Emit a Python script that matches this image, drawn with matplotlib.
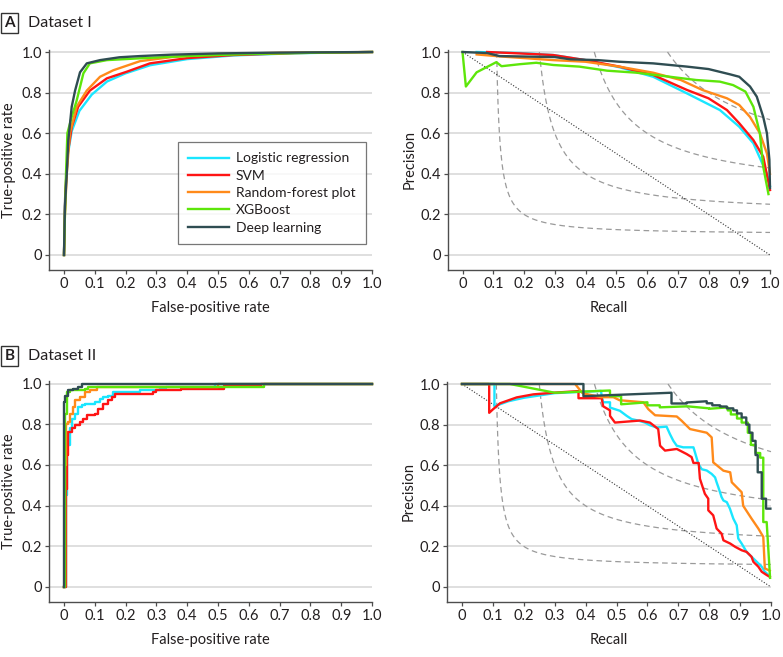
import matplotlib
matplotlib.use("Agg")
import matplotlib.pyplot as plt
from matplotlib.patches import Rectangle
import numpy as np

plt.rcParams['font.family'] = ['Lato', 'DejaVu Sans']

W, H = 783, 657

model_names = ["Logistic regression", "SVM", "Random-forest plot", "XGBoost", "Deep learning"]
model_colors = ["#1ae6ff", "#ff1414", "#ff8a1a", "#5de60a", "#2f4d52"]

x_ticks = [0, 0.1, 0.2, 0.3, 0.4, 0.5, 0.6, 0.7, 0.8, 0.9, 1.0]
x_tick_labels = ["0", "0.1", "0.2", "0.3", "0.4", "0.5", "0.6", "0.7", "0.8", "0.9", "1.0"]
y_ticks = [0, 0.2, 0.4, 0.6, 0.8, 1.0]
y_tick_labels = ["0", "0.2", "0.4", "0.6", "0.8", "1.0"]
f1_levels = [0.2, 0.4, 0.6, 0.8]

# ---------------- Dataset I, ROC ----------------
roc1_lr_fpr = [0, 0.004, 0.012, 0.025, 0.05, 0.09, 0.14, 0.2, 0.28, 0.4, 0.55, 0.75, 1.0]
roc1_lr_tpr = [0, 0.3, 0.49, 0.61, 0.71, 0.79, 0.855, 0.895, 0.935, 0.965, 0.983, 0.994, 1.0]
roc1_svm_fpr = [0, 0.004, 0.012, 0.025, 0.046, 0.084, 0.139, 0.204, 0.279, 0.40, 0.55, 0.75, 1.0]
roc1_svm_tpr = [0, 0.3, 0.50, 0.63, 0.73, 0.81, 0.87, 0.903, 0.944, 0.97, 0.985, 0.995, 1.0]
roc1_rf_fpr = [0, 0.003, 0.009, 0.019, 0.041, 0.074, 0.117, 0.16, 0.247, 0.35, 0.5, 0.7, 1.0]
roc1_rf_tpr = [0, 0.2, 0.40, 0.60, 0.73, 0.81, 0.878, 0.91, 0.955, 0.975, 0.99, 0.996, 1.0]
roc1_xgb_fpr = [0, 0.003, 0.0065, 0.011, 0.025, 0.041, 0.063, 0.084, 0.139, 0.247, 0.4, 0.6, 0.8, 1.0]
roc1_xgb_tpr = [0, 0.2, 0.40, 0.60, 0.68, 0.76, 0.895, 0.944, 0.96, 0.969, 0.98, 0.99, 0.996, 1.0]
roc1_dl_fpr = [0, 0, 0.003, 0.009, 0.014, 0.025, 0.036, 0.052, 0.074, 0.117, 0.18, 0.247, 0.35, 0.5, 0.7, 1.0]
roc1_dl_tpr = [0, 0.01, 0.24, 0.40, 0.565, 0.73, 0.81, 0.90, 0.944, 0.96, 0.974, 0.98, 0.987, 0.993, 0.997, 1.0]

# ---------------- Dataset I, PR ----------------
pr1_lr_rec = [0.046, 0.187, 0.295, 0.40, 0.51, 0.62, 0.73, 0.837, 0.90, 0.946, 0.99, 1.0]
pr1_lr_prec = [1.0, 0.995, 0.985, 0.96, 0.925, 0.878, 0.796, 0.714, 0.632, 0.55, 0.40, 0.34]
pr1_svm_rec = [0.08, 0.187, 0.295, 0.40, 0.51, 0.62, 0.73, 0.80, 0.86, 0.90, 0.946, 0.978, 1.0]
pr1_svm_prec = [1.0, 0.993, 0.985, 0.96, 0.928, 0.887, 0.813, 0.772, 0.714, 0.649, 0.566, 0.484, 0.32]
pr1_rf_rec = [0.046, 0.133, 0.295, 0.40, 0.51, 0.62, 0.71, 0.78, 0.86, 0.90, 0.935, 0.967, 0.99, 1.0]
pr1_rf_prec = [0.988, 0.977, 0.96, 0.952, 0.928, 0.898, 0.862, 0.813, 0.772, 0.739, 0.68, 0.60, 0.50, 0.40]
pr1_xgb_rec = [0, 0.011, 0.046, 0.11, 0.127, 0.187, 0.24, 0.295, 0.38, 0.47, 0.566, 0.675, 0.76,
               0.837, 0.88, 0.92, 0.946, 0.967, 0.978, 0.995]
pr1_xgb_prec = [1.0, 0.83, 0.90, 0.95, 0.93, 0.94, 0.947, 0.936, 0.928, 0.908, 0.898, 0.878, 0.862,
                0.854, 0.837, 0.805, 0.73, 0.60, 0.435, 0.30]
pr1_dl_rec = [0, 0.08, 0.12, 0.3, 0.35, 0.44, 0.51, 0.62, 0.73, 0.80, 0.87, 0.90, 0.935, 0.957,
              0.978, 0.99, 0.998, 1.0]
pr1_dl_prec = [1.0, 0.995, 0.98, 0.975, 0.964, 0.96, 0.952, 0.944, 0.928, 0.916, 0.89, 0.878, 0.83,
               0.78, 0.68, 0.60, 0.47, 0.33]

# ---------------- Dataset II, ROC (step levels) ----------------
roc2_lr_fpr = [0, 0.005, 0.0087, 0.0195, 0.025, 0.036, 0.046, 0.057, 0.068, 0.1, 0.117, 0.128,
               0.144, 0.16, 0.247, 0.312, 0.33, 0.49, 1.0]
roc2_lr_tpr = [0, 0.45, 0.70, 0.78, 0.827, 0.85, 0.884, 0.892, 0.90, 0.91, 0.925, 0.933,
               0.941, 0.958, 0.966, 0.977, 0.985, 1.0, 1.0]
roc2_svm_fpr = [0, 0.005, 0.0087, 0.014, 0.025, 0.036, 0.052, 0.063, 0.074, 0.1, 0.111, 0.128,
                0.144, 0.155, 0.166, 0.29, 0.3, 0.38, 0.39, 0.52, 0.64, 1.0]
roc2_svm_tpr = [0, 0.48, 0.65, 0.76, 0.78, 0.795, 0.81, 0.827, 0.843, 0.85, 0.876, 0.90,
                0.917, 0.933, 0.95, 0.957, 0.966, 0.974, 0.974, 0.99, 1.0, 1.0]
roc2_rf_fpr = [0, 0.004, 0.0065, 0.014, 0.019, 0.03, 0.036, 0.052, 0.068, 0.084, 0.106, 0.5, 1.0]
roc2_rf_tpr = [0, 0.60, 0.80, 0.81, 0.85, 0.884, 0.917, 0.933, 0.958, 0.97, 0.985, 1.0, 1.0]
roc2_xgb_fpr = [0, 0.003, 0.0087, 0.019, 0.068, 0.079, 0.65, 1.0]
roc2_xgb_tpr = [0, 0.85, 0.958, 0.966, 0.974, 0.985, 1.0, 1.0]
roc2_dl_fpr = [0, 0.0, 0.003, 0.014, 0.030, 0.046, 0.057, 1.0]
roc2_dl_tpr = [0, 0.91, 0.94, 0.966, 0.974, 0.985, 1.0, 1.0]

# ---------------- Dataset II, PR (curve vertices) ----------------
pr2_lr_rec = [0, 0.105, 0.105, 0.15, 0.2, 0.3, 0.45, 0.452, 0.457, 0.479, 0.479, 0.511, 0.533,
              0.549, 0.57, 0.592, 0.608, 0.63, 0.662, 0.673, 0.684, 0.695, 0.716, 0.749, 0.754,
              0.765, 0.776, 0.792, 0.808, 0.819, 0.824, 0.83, 0.84, 0.846, 0.857, 0.867, 0.878,
              0.889, 0.894, 0.905, 0.921, 0.937, 0.954, 0.97, 0.98, 0.992]
pr2_lr_prec = [1.0, 1.0, 0.89, 0.915, 0.932, 0.955, 0.966, 0.94, 0.91, 0.91, 0.884, 0.868, 0.843,
               0.827, 0.82, 0.81, 0.797, 0.786, 0.79, 0.753, 0.72, 0.696, 0.688, 0.688, 0.663,
               0.606, 0.58, 0.574, 0.557, 0.54, 0.516, 0.49, 0.443, 0.426, 0.418, 0.386, 0.337,
               0.304, 0.239, 0.214, 0.173, 0.149, 0.124, 0.10, 0.075, 0.059]
pr2_svm_rec = [0, 0.088, 0.088, 0.10, 0.123, 0.177, 0.231, 0.296, 0.377, 0.377, 0.452, 0.457,
               0.479, 0.479, 0.495, 0.576, 0.608, 0.625, 0.635, 0.641, 0.657, 0.695, 0.727, 0.743,
               0.749, 0.766, 0.77, 0.786, 0.797, 0.797, 0.813, 0.824, 0.84, 0.846, 0.868, 0.884,
               0.905, 0.921, 0.937, 0.943, 0.959, 0.97, 0.986, 0.996]
pr2_svm_prec = [1.0, 1.0, 0.858, 0.875, 0.905, 0.934, 0.949, 0.957, 0.965, 0.93, 0.93, 0.89,
                0.87, 0.843, 0.81, 0.82, 0.81, 0.79, 0.778, 0.696, 0.672, 0.68, 0.655, 0.64,
                0.611, 0.611, 0.533, 0.459, 0.435, 0.378, 0.353, 0.288, 0.263, 0.23, 0.214, 0.198,
                0.181, 0.173, 0.149, 0.124, 0.10, 0.075, 0.059, 0.05]
pr2_rf_rec = [0, 0.366, 0.39, 0.45, 0.49, 0.51, 0.587, 0.603, 0.625, 0.695, 0.71, 0.738, 0.792,
              0.808, 0.813, 0.846, 0.868, 0.873, 0.905, 0.91, 0.937, 0.959, 0.975, 0.98, 0.996]
pr2_rf_prec = [1.0, 1.0, 0.955, 0.935, 0.935, 0.92, 0.91, 0.876, 0.846, 0.84, 0.82, 0.778, 0.76,
               0.737, 0.614, 0.573, 0.565, 0.516, 0.467, 0.40, 0.337, 0.288, 0.247, 0.092, 0.08]
pr2_xgb_rec = [0, 0.155, 0.30, 0.479, 0.479, 0.515, 0.515, 0.60, 0.60, 0.64, 0.64, 0.73, 0.80,
               0.80, 0.86, 0.86, 0.87, 0.87, 0.89, 0.89, 0.905, 0.905, 0.925, 0.925, 0.935, 0.935,
               0.95, 0.95, 0.965, 0.965, 0.975, 0.975, 0.986, 0.997]
pr2_xgb_prec = [1.0, 1.0, 0.957, 0.968, 0.94, 0.94, 0.90, 0.91, 0.895, 0.895, 0.885, 0.89, 0.88,
                0.878, 0.885, 0.87, 0.87, 0.85, 0.85, 0.83, 0.83, 0.81, 0.81, 0.76, 0.76, 0.70,
                0.70, 0.66, 0.66, 0.637, 0.637, 0.32, 0.32, 0.045]
pr2_dl_rec = [0, 0.393, 0.393, 0.678, 0.678, 0.727, 0.727, 0.792, 0.792, 0.81, 0.81, 0.835, 0.835,
              0.857, 0.857, 0.878, 0.878, 0.89, 0.89, 0.905, 0.905, 0.92, 0.92, 0.93, 0.93, 0.94,
              0.94, 0.95, 0.95, 0.957, 0.957, 0.97, 0.97, 0.984, 0.984, 0.998]
pr2_dl_prec = [1.0, 1.0, 0.94, 0.957, 0.904, 0.904, 0.909, 0.915, 0.905, 0.905, 0.895, 0.895,
               0.889, 0.889, 0.880, 0.880, 0.870, 0.870, 0.855, 0.855, 0.835, 0.835, 0.80, 0.80,
               0.76, 0.76, 0.72, 0.72, 0.65, 0.65, 0.565, 0.565, 0.435, 0.435, 0.386, 0.386]

roc1 = [(roc1_lr_fpr, roc1_lr_tpr), (roc1_svm_fpr, roc1_svm_tpr), (roc1_rf_fpr, roc1_rf_tpr),
        (roc1_xgb_fpr, roc1_xgb_tpr), (roc1_dl_fpr, roc1_dl_tpr)]
pr1 = [(pr1_lr_rec, pr1_lr_prec), (pr1_svm_rec, pr1_svm_prec), (pr1_rf_rec, pr1_rf_prec),
       (pr1_xgb_rec, pr1_xgb_prec), (pr1_dl_rec, pr1_dl_prec)]
roc2 = [(roc2_lr_fpr, roc2_lr_tpr), (roc2_svm_fpr, roc2_svm_tpr), (roc2_rf_fpr, roc2_rf_tpr),
        (roc2_xgb_fpr, roc2_xgb_tpr), (roc2_dl_fpr, roc2_dl_tpr)]
pr2 = [(pr2_lr_rec, pr2_lr_prec), (pr2_svm_rec, pr2_svm_prec), (pr2_rf_rec, pr2_rf_prec),
       (pr2_xgb_rec, pr2_xgb_prec), (pr2_dl_rec, pr2_dl_prec)]

XLO, XHI, YLO, YHI = -0.048, 1.0, -0.074, 1.012
TXT = "#231f20"
SPINE = "#4d4d4d"
FS = 10.5
LW = 1.7


def rect(x0, x1, y0, y1):
    sx = x1 - x0
    sy = y0 - y1
    left = x0 + XLO * sx
    right = x0 + XHI * sx
    top = y0 - YHI * sy
    bottom = y0 - YLO * sy
    return [left / W, 1 - bottom / H, (right - left) / W, (bottom - top) / H]


fig = plt.figure(figsize=(W / 100, H / 100), dpi=100)

axes_px = {
    "roc1": (64, 372, 255, 52),
    "pr1": (462.5, 770, 255, 52),
    "roc2": (64, 372, 587, 383.5),
    "pr2": (462, 771, 587, 384),
}


def style_axes(ax, xlabel, ylabel, ylabelpad):
    ax.set_xlim(XLO, XHI)
    ax.set_ylim(YLO, YHI)
    for s in ["top", "right"]:
        ax.spines[s].set_visible(False)
    for s in ["left", "bottom"]:
        ax.spines[s].set_color(SPINE)
        ax.spines[s].set_linewidth(1.0)
    ax.set_xticks(x_ticks)
    ax.set_xticklabels(x_tick_labels)
    ax.set_yticks(y_ticks)
    ax.set_yticklabels(y_tick_labels)
    ax.tick_params(axis="both", direction="out", length=3, width=0.9, color=SPINE,
                   labelsize=FS, labelcolor=TXT, pad=2)
    for y in y_ticks:
        ax.axhline(y, color="#d6d6d6", lw=1.1, zorder=0)
    ax.set_xlabel(xlabel, fontsize=FS, color=TXT, labelpad=7)
    ax.set_ylabel(ylabel, fontsize=FS, color=TXT, labelpad=ylabelpad)


def draw_iso(ax):
    for f in f1_levels:
        r = np.linspace(f / (2 - f), 1.0, 400)
        p = f * r / (2 * r - f)
        ax.plot(r, p, color="#9a9a9a", lw=0.9, ls=(0, (4.5, 3)), zorder=1, clip_on=False)
    ax.plot([0, 1], [1, 0], color="#333333", lw=0.8, ls=(0, (1, 1.6)), zorder=1, clip_on=False)


ax1 = fig.add_axes(rect(*axes_px["roc1"]))
style_axes(ax1, "False-positive rate", "True-positive rate", 4)
lines = []
for (xs, ys), c, n in zip(roc1, model_colors, model_names):
    ln, = ax1.plot(xs, ys, color=c, lw=LW, label=n, zorder=3, clip_on=False)
    lines.append(ln)

ax2 = fig.add_axes(rect(*axes_px["pr1"]))
style_axes(ax2, "Recall", "Precision", 3)
draw_iso(ax2)
for (xs, ys), c in zip(pr1, model_colors):
    ax2.plot(xs, ys, color=c, lw=LW, zorder=3, clip_on=False)

ax3 = fig.add_axes(rect(*axes_px["roc2"]))
style_axes(ax3, "False-positive rate", "True-positive rate", 4)
for (xs, ys), c in zip(roc2, model_colors):
    ax3.plot(xs, ys, color=c, lw=LW, zorder=3, drawstyle="steps-post", clip_on=False)

ax4 = fig.add_axes(rect(*axes_px["pr2"]))
style_axes(ax4, "Recall", "Precision", 3)
draw_iso(ax4)
for (xs, ys), c in zip(pr2, model_colors):
    ax4.plot(xs, ys, color=c, lw=LW, zorder=3, clip_on=False)

leg = fig.legend(handles=lines, loc="upper left", bbox_to_anchor=(178 / W, 1 - 142 / H),
                 bbox_transform=fig.transFigure, borderaxespad=0, fontsize=10,
                 frameon=True, fancybox=False, edgecolor="#555555", handlelength=2.9,
                 handletextpad=0.5, labelspacing=0.38, borderpad=0.75)
leg.get_frame().set_linewidth(0.9)
for t in leg.get_texts():
    t.set_color(TXT)

# panel labels
for lab, title, ytop in [("A", "Dataset I", 13), ("B", "Dataset II", 346)]:
    fig.add_artist(Rectangle((1 / W, 1 - (ytop + 20) / H), 17 / W, 20 / H,
                             transform=fig.transFigure, fc="white", ec="#333333", lw=1.0))
    fig.text(9.5 / W, 1 - (ytop + 10) / H, lab, ha="center", va="center", fontsize=11,
             fontweight="bold", color=TXT)
    fig.text(28 / W, 1 - (ytop + 10) / H, title, ha="left", va="center", fontsize=11.5, color=TXT)

fig.savefig("out.png", dpi=100)
